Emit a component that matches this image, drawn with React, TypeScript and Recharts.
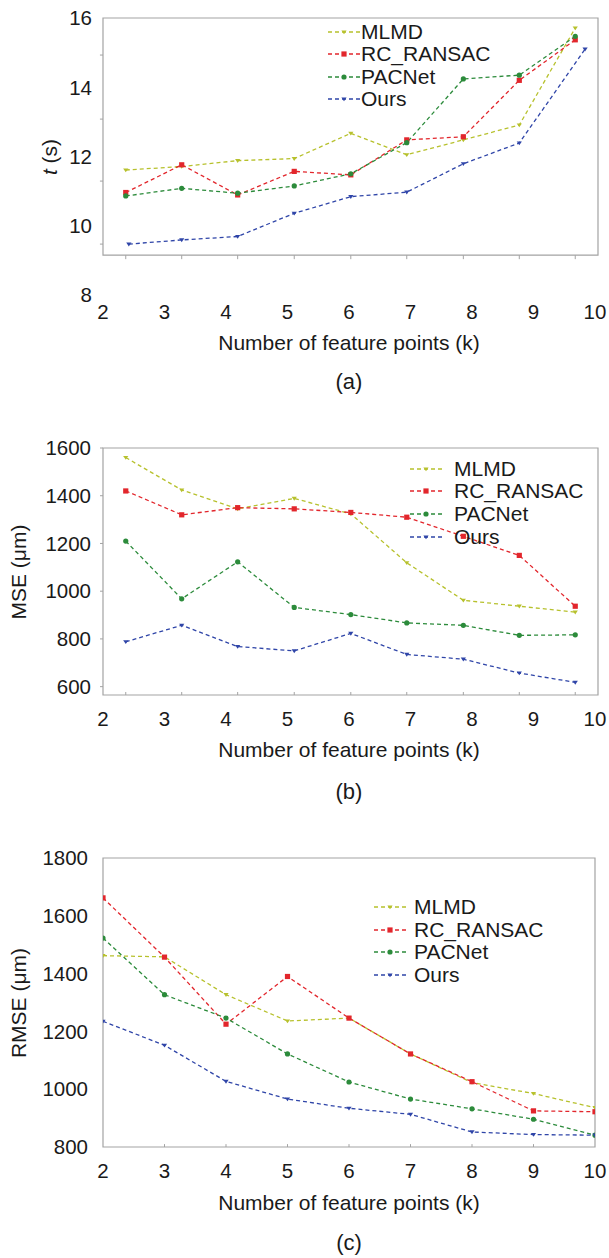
import { LineChart, Line, XAxis, YAxis, ReferenceArea, ReferenceLine } from "recharts";

const FONT = '"Liberation Sans", Arial, sans-serif';
const INK = "#1a1a1a";
const FRAME = "#a3a3a3";

// x positions (k) where panels (a) and (b) put their points
const kTicks = [2, 3, 4, 5, 6, 7, 8, 9, 10];
const kPos = [2.37, 3.28, 4.19, 5.11, 6.03, 6.94, 7.86, 8.77, 9.68];
const kPosOursTime = [2.42, 3.28, 4.19, 5.11, 6.03, 6.94, 7.86, 8.77, 9.84];

const methods = ["MLMD", "RC_RANSAC", "PACNet", "Ours"];
const colors = ["#b7c12d", "#e2262c", "#2c8b3b", "#2f45a8"];
const shapes = ["tri", "sq", "dot", "tri"];

// (a) running time t (s)
const timeMLMD = [11.61, 11.71, 11.88, 11.94, 12.67, 12.05, 12.48, 12.91, 15.71];
const timeRC = [10.96, 11.76, 10.89, 11.57, 11.47, 12.48, 12.57, 14.2, 15.37];
const timePAC = [10.86, 11.08, 10.94, 11.15, 11.5, 12.4, 14.24, 14.35, 15.47];
const timeOurs = [9.47, 9.59, 9.69, 10.36, 10.84, 10.97, 11.79, 12.39, 15.1];
const timeTicks = [8, 10, 12, 14, 16];

// (b) MSE (μm)
const mseMLMD = [1560, 1424, 1345, 1389, 1324, 1119, 962, 937, 912];
const mseRC = [1420, 1320, 1350, 1345, 1330, 1310, 1230, 1150, 937];
const msePAC = [1210, 968, 1123, 932, 902, 867, 857, 815, 817];
const mseOurs = [788, 857, 768, 750, 823, 735, 715, 657, 618];
const mseTicks = [600, 800, 1000, 1200, 1400, 1600];

// (c) RMSE (μm)
const rmseMLMD = [1462, 1458, 1327, 1236, 1246, 1122, 1023, 985, 936];
const rmseRC = [1662, 1457, 1225, 1390, 1246, 1122, 1026, 925, 922];
const rmsePAC = [1523, 1327, 1246, 1122, 1025, 966, 932, 896, 841];
const rmseOurs = [1235, 1152, 1027, 966, 934, 913, 852, 843, 841];
const rmseTicks = [800, 1000, 1200, 1400, 1600, 1800];

// odd little ticks on the left edge of panel (a)
const timeSideTicks = [14.93, 13.08, 11.29, 9.47];

function Marker({ shape, cx, cy, color }: any) {
  if (cx == null || cy == null) return null;
  if (shape === "sq") return <rect x={cx - 2.6} y={cy - 2.6} width={5.2} height={5.2} fill={color} />;
  if (shape === "dot") return <circle cx={cx} cy={cy} r={2.6} fill={color} />;
  return <polygon points={`${cx - 2.6},${cy - 1.6} ${cx + 2.6},${cy - 1.6} ${cx},${cy + 2.3}`} fill={color} />;
}

const pts = (xs: number[], ys: number[]) => ys.map((y, i) => ({ x: xs[i], y }));

function Legend({ left, textLeft, tops }: { left: number; textLeft: number; tops: number[] }) {
  const lineW = 32;
  return (
    <>
      {methods.map((m, i) => (
        <div
          key={m}
          style={{
            position: "absolute",
            left,
            top: tops[i] - 12,
            height: 24,
            display: "flex",
            alignItems: "center",
          }}
        >
          <svg width={lineW} height={10}>
            <line x1={0} y1={5} x2={lineW} y2={5} stroke={colors[i]} strokeWidth={1.3} strokeDasharray="4 3" />
            <Marker shape={shapes[i]} cx={lineW / 2} cy={5} color={colors[i]} />
          </svg>
          <span style={{ marginLeft: textLeft - left - lineW, fontSize: 21, color: INK, lineHeight: "24px" }}>{m}</span>
        </div>
      ))}
    </>
  );
}

function CenterText({ cx, cy, children, size = 21 }: any) {
  return (
    <div
      style={{
        position: "absolute",
        left: cx - 200,
        top: cy - 12,
        width: 400,
        height: 24,
        lineHeight: "24px",
        textAlign: "center",
        fontSize: size,
        color: INK,
      }}
    >
      {children}
    </div>
  );
}

function YTitle({ cx, cy, children }: any) {
  return (
    <div
      style={{
        position: "absolute",
        left: cx - 100,
        top: cy - 12,
        width: 200,
        height: 24,
        lineHeight: "24px",
        textAlign: "center",
        fontSize: 21,
        color: INK,
        transform: "rotate(-90deg)",
        transformOrigin: "center",
      }}
    >
      {children}
    </div>
  );
}

type PanelProps = {
  top: number;
  height: number;
  margin: { top: number; right: number; bottom: number; left: number };
  xDomain: [number, number];
  yDomain: [number, number];
  yTicks: number[];
  frame: [number, number, number, number];
  series: { xs: number[]; ys: number[] }[];
  marks: { xs: number[]; y0: number; y1: number };
  side?: { ys: number[]; x0: number; x1: number };
  yTickLine: boolean;
  yTickMargin: number;
  xTickMargin: number;
};

function Panel(p: PanelProps) {
  const tickStyle = { fontSize: 20.5, fill: INK, fontFamily: FONT };
  return (
    <div style={{ position: "absolute", left: 0, top: p.top }}>
      <LineChart width={609} height={p.height} margin={p.margin} style={{ fontFamily: FONT }}>
        <XAxis
          type="number"
          dataKey="x"
          domain={p.xDomain}
          ticks={kTicks}
          allowDataOverflow
          axisLine={false}
          tickLine={false}
          tickSize={0}
          tickMargin={p.xTickMargin}
          height={30}
          tick={tickStyle}
          interval={0}
        />
        <YAxis
          type="number"
          domain={p.yDomain}
          ticks={p.yTicks}
          allowDataOverflow
          axisLine={false}
          tickLine={p.yTickLine ? { stroke: FRAME } : false}
          tickSize={p.yTickLine ? 3 : 6}
          tickMargin={p.yTickMargin}
          width={103}
          tick={tickStyle}
          interval={0}
        />
        <ReferenceArea
          x1={p.frame[0]}
          x2={p.frame[1]}
          y1={p.frame[2]}
          y2={p.frame[3]}
          fill="none"
          fillOpacity={0}
          stroke={FRAME}
          strokeWidth={1.2}
          ifOverflow="visible"
        />
        {p.marks.xs.map((x) => (
          <ReferenceLine
            key={`mk${x}`}
            segment={[
              { x, y: p.marks.y0 },
              { x, y: p.marks.y1 },
            ]}
            stroke={FRAME}
            ifOverflow="visible"
          />
        ))}
        {p.side &&
          p.side.ys.map((y) => (
            <ReferenceLine
              key={`sd${y}`}
              segment={[
                { x: p.side!.x0, y },
                { x: p.side!.x1, y },
              ]}
              stroke={FRAME}
              ifOverflow="visible"
            />
          ))}
        {p.series.map((s, i) => (
          <Line
            key={methods[i]}
            name={methods[i]}
            data={pts(s.xs, s.ys)}
            dataKey="y"
            type="linear"
            stroke={colors[i]}
            strokeWidth={1.3}
            strokeDasharray="4 3"
            isAnimationActive={false}
            activeDot={false}
            dot={(d: any) => <Marker key={`${methods[i]}-${d.index}`} shape={shapes[i]} cx={d.cx} cy={d.cy} color={colors[i]} />}
          />
        ))}
      </LineChart>
    </div>
  );
}

export default function App() {
  const xTitle = "Number of feature points (k)";
  return (
    <div
      style={{
        position: "absolute",
        left: 0,
        top: 0,
        width: 609,
        height: 1258,
        background: "#fff",
        fontFamily: FONT,
        overflow: "hidden",
      }}
    >
      {/* (a) */}
      <Panel
        top={0}
        height={360}
        margin={{ top: 18, right: 11, bottom: 35, left: 0 }}
        xDomain={[2, 10.05]}
        yDomain={[8, 16]}
        yTicks={timeTicks}
        frame={[2, 10.05, 9.15, 16]}
        series={[
          { xs: kPos, ys: timeMLMD },
          { xs: kPos, ys: timeRC },
          { xs: kPos, ys: timePAC },
          { xs: kPosOursTime, ys: timeOurs },
        ]}
        marks={{ xs: kPos, y0: 9.15, y1: 9.035 }}
        side={{ ys: timeSideTicks, x0: 2, x1: 1.95 }}
        yTickLine={false}
        yTickMargin={5}
        xTickMargin={9}
      />
      <Legend left={328} textLeft={361} tops={[32, 54, 76.5, 99]} />
      <YTitle cx={50} cy={156.5}>
        <i>t</i> (s)
      </YTitle>
      <CenterText cx={349} cy={343}>{xTitle}</CenterText>
      <CenterText cx={349} cy={382} size={22}>(a)</CenterText>

      {/* (b) */}
      <Panel
        top={400}
        height={400}
        margin={{ top: 48, right: 11, bottom: 75, left: 0 }}
        xDomain={[2, 10.05]}
        yDomain={[565, 1600]}
        yTicks={mseTicks}
        frame={[2, 10.05, 565, 1600]}
        series={[
          { xs: kPos, ys: mseMLMD },
          { xs: kPos, ys: mseRC },
          { xs: kPos, ys: msePAC },
          { xs: kPos, ys: mseOurs },
        ]}
        marks={{ xs: kPos, y0: 565, y1: 577.6 }}
        yTickLine={true}
        yTickMargin={9}
        xTickMargin={16}
      />
      <Legend left={410} textLeft={454} tops={[469, 491, 514, 537]} />
      <YTitle cx={19} cy={571.5}>MSE (μm)</YTitle>
      <CenterText cx={349} cy={750}>{xTitle}</CenterText>
      <CenterText cx={349} cy={792} size={22}>(b)</CenterText>

      {/* (c) */}
      <Panel
        top={820}
        height={438}
        margin={{ top: 38, right: 14, bottom: 81, left: 0 }}
        xDomain={[2, 10]}
        yDomain={[800, 1800]}
        yTicks={rmseTicks}
        frame={[2, 10, 800, 1800]}
        series={[
          { xs: kTicks, ys: rmseMLMD },
          { xs: kTicks, ys: rmseRC },
          { xs: kTicks, ys: rmsePAC },
          { xs: kTicks, ys: rmseOurs },
        ]}
        marks={{ xs: kTicks.slice(1, -1), y0: 800, y1: 810 }}
        yTickLine={false}
        yTickMargin={9}
        xTickMargin={16}
      />
      <Legend left={374} textLeft={414} tops={[907, 930, 952, 975]} />
      <YTitle cx={19} cy={1002.5}>RMSE (μm)</YTitle>
      <CenterText cx={349} cy={1203}>{xTitle}</CenterText>
      <CenterText cx={349} cy={1243} size={22}>(c)</CenterText>
    </div>
  );
}
